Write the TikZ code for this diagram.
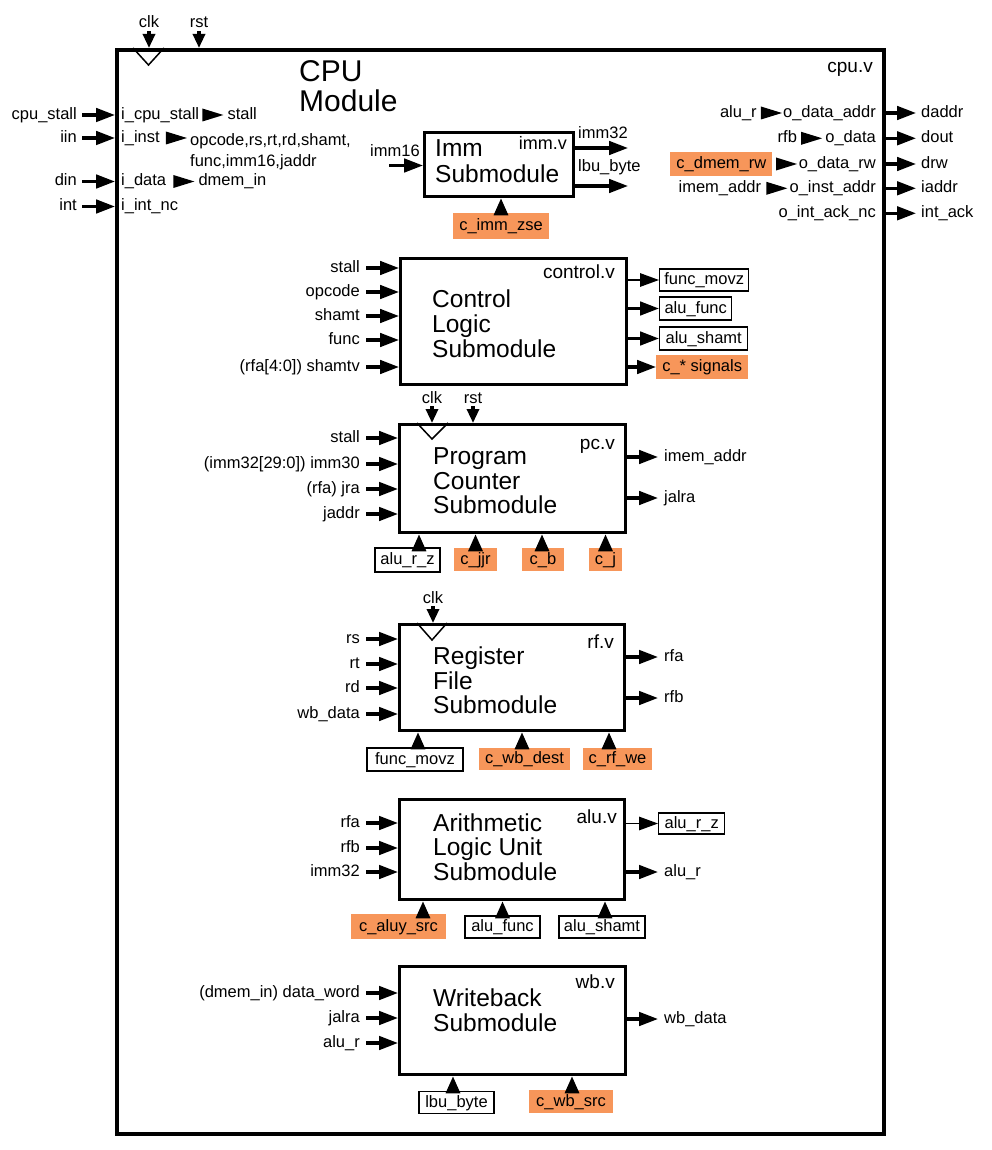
\documentclass[tikz,border=0pt]{standalone}
\usepackage{fontspec}
\setmainfont{Liberation Sans}
\usetikzlibrary{arrows.meta}
\definecolor{corange}{RGB}{247,150,90}
\newcommand\lblfnt{\fontsize{16.5}{20}\selectfont}
\newcommand\bigfnt{\fontsize{24.5}{25}\selectfont}
\newcommand\cpufnt{\fontsize{30}{30}\selectfont}
\newcommand\filefnt{\fontsize{19}{20}\selectfont}
% right-pointing small triangle starting at a coordinate
\newcommand\rtri[1]{\fill (#1) -- ++(0,-6.5) -- ++(21,6.5) -- ++(-21,6.5) -- cycle;}
% input label + arrow into a submodule
\newcommand\inp[4]{\node[lab, anchor=east] (#1) at (360,#2) {#3};
  \draw[arr] ([xshift=6pt]#1.east) -- (#1 -| #4.west);}
% output label + arrow out of a submodule
\newcommand\outp[4]{\node[lab, anchor=west] (#1) at (664,#2) {#3};
  \draw[arr] (#1 -| #4.east) -- ([xshift=-6pt]#1.west);}
% bottom tag + arrow up into a submodule
\newcommand\bin[9]{\node[#2, minimum width=#5pt, minimum height=#6pt] (#1) at (#3,#4) {#7};
  \coordinate (#1a) at ([xshift=#8pt]#1.north);
  \draw[barr] (#1a) -- (#1a |- #9.south);}
\begin{document}
\begin{tikzpicture}[x=1pt,y=-1pt,
  lab/.style={font=\lblfnt, inner sep=0pt, text height=12pt, text depth=3pt},
  tag/.style={lab, draw, line width=1.4pt},
  otag/.style={lab, fill=corange},
  sub/.style={draw, line width=3.3pt, anchor=north west, inner sep=0pt},
  title/.style={font=\bigfnt, anchor=base west, inner sep=0pt},
  file/.style={font=\filefnt, anchor=base east, inner sep=0pt},
  arr/.style={line width=3.2pt, -{Triangle[length=19pt,width=13.5pt]}},
  tarr/.style={line width=1.4pt, -{Triangle[length=19pt,width=13.5pt]}},
  barr/.style={line width=3.2pt, -{Triangle[length=17pt,width=14pt]}},
  varr/.style={line width=3.2pt, -{Triangle[length=14pt,width=12pt]}},
  clkmark/.style={line width=1.5pt}]
\useasboundingbox (0,0) rectangle (992,1150);

% ---------------- outer CPU module ----------------
\node[draw, line width=4.3pt, anchor=north west, inner sep=0pt,
      minimum width=767pt, minimum height=1084pt] (cpu) at (115,48) {};
\node[font=\cpufnt, anchor=base west, inner sep=0pt] (cput1) at (299,81.7) {CPU};
\node[font=\cpufnt, anchor=base west, inner sep=0pt] (cput2) at (299,111.7) {Module};
\node[file] (cpuv) at (873,73) {cpu.v};
\draw[clkmark] ([xshift=18pt]cpu.north west) -- ++(15.5,17) -- ++(15.5,-17);
\node[lab, anchor=base] (clk0) at (149,28) {clk};
\node[lab, anchor=base] (rst0) at (199,28) {rst};
\draw[varr] (clk0.south) -- (clk0.south |- cpu.north);
\draw[varr] (rst0.south) -- (rst0.south |- cpu.north);

% left inputs
\node[lab, anchor=east] (in1) at (77,115) {cpu\_stall};
\draw[arr] ([xshift=5pt]in1.east) -- (in1 -| cpu.west);
\node[lab, anchor=west] (ii1) at (121,115) {i\_cpu\_stall};
\rtri{[xshift=3pt]ii1.east}
\node[lab, anchor=west] (ii1b) at ([xshift=28pt]ii1.east) {stall};

\node[lab, anchor=east] (in2) at (77,138) {iin};
\draw[arr] ([xshift=5pt]in2.east) -- (in2 -| cpu.west);
\node[lab, anchor=west] (ii2) at (121,138) {i\_inst};
\rtri{[xshift=6pt]ii2.east}
\node[lab, anchor=west] (ii2b) at (190,141) {opcode,rs,rt,rd,shamt,};
\node[lab, anchor=west] (ii2c) at (190,162) {func,imm16,jaddr};

\node[lab, anchor=east] (in3) at (77,181.5) {din};
\draw[arr] ([xshift=5pt]in3.east) -- (in3 -| cpu.west);
\node[lab, anchor=west] (ii3) at (121,181.5) {i\_data};
\rtri{[xshift=7pt]ii3.east}
\node[lab, anchor=west] (ii3b) at ([xshift=32pt]ii3.east) {dmem\_in};

\node[lab, anchor=east] (in4) at (77,206.5) {int};
\draw[arr] ([xshift=5pt]in4.east) -- (in4 -| cpu.west);
\node[lab, anchor=west] (ii4) at (121,206.5) {i\_int\_nc};

% right outputs
\node[lab, anchor=east] (o1) at (876,113) {o\_data\_addr};
\rtri{[xshift=-22pt]o1.west}
\node[lab, anchor=east] (o1a) at ([xshift=-26pt]o1.west) {alu\_r};
\node[lab, anchor=west] (d1) at (921,113) {daddr};
\draw[arr] (o1 -| cpu.east) -- ([xshift=-5pt]d1.west);

\node[lab, anchor=east] (o2) at (876,138.3) {o\_data};
\rtri{[xshift=-24pt]o2.west}
\node[lab, anchor=east] (o2a) at ([xshift=-28pt]o2.west) {rfb};
\node[lab, anchor=west] (d2) at (921,138.3) {dout};
\draw[arr] (o2 -| cpu.east) -- ([xshift=-5pt]d2.west);

\node[lab, anchor=east] (o3) at (876,164) {o\_data\_rw};
\rtri{[xshift=-22.5pt]o3.west}
\node[otag, minimum width=102pt, minimum height=24pt, anchor=east] (cdm) at ([xshift=-26pt]o3.west) {c\_dmem\_rw};
\node[lab, anchor=west] (d3) at (921,164) {drw};
\draw[arr] (o3 -| cpu.east) -- ([xshift=-5pt]d3.west);

\node[lab, anchor=east] (o4) at (876,188.3) {o\_inst\_addr};
\rtri{[xshift=-23pt]o4.west}
\node[lab, anchor=east] (o4a) at ([xshift=-28pt]o4.west) {imem\_addr};
\node[lab, anchor=west] (d4) at (921,188.3) {iaddr};
\draw[arr] (o4 -| cpu.east) -- ([xshift=-5pt]d4.west);

\node[lab, anchor=east] (o5) at (876,213.3) {o\_int\_ack\_nc};
\node[lab, anchor=west] (d5) at (921,213.3) {int\_ack};
\draw[arr] (o5 -| cpu.east) -- ([xshift=-5pt]d5.west);

% ---------------- Imm submodule ----------------
\node[sub, minimum width=149pt, minimum height=64pt] (imm) at (423,131) {};
\node[title] (immt1) at (435,156.5) {Imm};
\node[title] (immt2) at (435,182.5) {Submodule};
\node[file, font=\fontsize{18}{20}\selectfont] (immv) at (567,150) {imm.v};
\node[lab, anchor=base west] (imm16) at (370,157) {imm16};
\coordinate (i16) at (389,165.5);
\draw[arr] (i16) -- (i16 -| imm.west);
\node[lab, anchor=base west] (imm32) at (578,139) {imm32};
\coordinate (i32) at (628,148);
\draw[arr] (i32 -| imm.east) -- (i32);
\node[lab, anchor=base west] (lbub) at (578,172) {lbu\_byte};
\coordinate (ilb) at (628,186);
\draw[arr] (ilb -| imm.east) -- (ilb);
\bin{cimm}{otag}{501}{226}{96}{26}{c\_imm\_zse}{0}{imm}

% ---------------- Control submodule ----------------
\node[sub, minimum width=226pt, minimum height=126pt] (ctl) at (399,257) {};
\node[title] (ctlt1) at (432,307) {Control};
\node[title] (ctlt2) at (432,332) {Logic};
\node[title] (ctlt3) at (432,357) {Submodule};
\node[file] (ctlv) at (615,278) {control.v};
\inp{ci1}{268}{stall}{ctl}
\inp{ci2}{292}{opcode}{ctl}
\inp{ci3}{316}{shamt}{ctl}
\inp{ci4}{340}{func}{ctl}
\inp{ci5}{367}{(rfa[4:0]) shamtv}{ctl}
\node[tag, minimum width=89pt, minimum height=22pt, anchor=west] (fm1) at (659,280) {func\_movz};
\draw[tarr] (fm1.west -| ctl.east) -- (fm1.west);
\node[tag, minimum width=72pt, minimum height=23pt, anchor=west] (af1) at (659,308.5) {alu\_func};
\draw[arr] (af1.west -| ctl.east) -- (af1.west);
\node[tag, minimum width=88pt, minimum height=23pt, anchor=west] (as1) at (659,338.5) {alu\_shamt};
\draw[arr] (as1.west -| ctl.east) -- (as1.west);
\node[otag, minimum width=92pt, minimum height=24pt, anchor=west] (cs1) at (656,367) {c\_* signals};
\draw[arr] (cs1.west -| ctl.east) -- (cs1.west);

% ---------------- PC submodule ----------------
\node[sub, minimum width=226pt, minimum height=108pt] (pc) at (398,423) {};
\draw[clkmark] ([xshift=19pt]pc.north west) -- ++(15,16) -- ++(16,-16);
\node[lab, anchor=base] (clk1) at (432,403) {clk};
\node[lab, anchor=base] (rst1) at (473,403) {rst};
\draw[varr] (clk1.south) -- (clk1.south |- pc.north);
\draw[varr] (rst1.south) -- (rst1.south |- pc.north);
\node[title] (pct1) at (433,464) {Program};
\node[title] (pct2) at (433,489) {Counter};
\node[title] (pct3) at (433,513) {Submodule};
\node[file] (pcv) at (615,449) {pc.v};
\inp{pi1}{438}{stall}{pc}
\inp{pi2}{464}{(imm32[29:0]) imm30}{pc}
\inp{pi3}{489}{(rfa) jra}{pc}
\inp{pi4}{514}{jaddr}{pc}
\outp{po1}{457}{imem\_addr}{pc}
\outp{po2}{498}{jalra}{pc}
\bin{pb1}{tag}{407.5}{560}{65}{24}{alu\_r\_z}{11.5}{pc}
\bin{pb2}{otag}{475.5}{559.5}{43}{23}{c\_jjr}{0}{pc}
\bin{pb3}{otag}{543}{559.5}{42}{23}{c\_b}{-1}{pc}
\bin{pb4}{otag}{605.5}{559.5}{33}{23}{c\_j}{0}{pc}

% ---------------- Register file ----------------
\node[sub, minimum width=225pt, minimum height=106pt] (rf) at (398,623) {};
\draw[clkmark] ([xshift=19pt]rf.north west) -- ++(15,17) -- ++(15,-17);
\node[lab, anchor=base] (clk2) at (433,603) {clk};
\draw[varr] (clk2.south) -- (clk2.south |- rf.north);
\node[title] (rft1) at (433,664) {Register};
\node[title] (rft2) at (433,689) {File};
\node[title] (rft3) at (433,713) {Submodule};
\node[file] (rfv) at (614,648) {rf.v};
\inp{ri1}{639}{rs}{rf}
\inp{ri2}{664}{rt}{rf}
\inp{ri3}{688}{rd}{rf}
\inp{ri4}{714}{wb\_data}{rf}
\outp{ro1}{657}{rfa}{rf}
\outp{ro2}{698}{rfb}{rf}
\bin{rb1}{tag}{415}{759.5}{96}{23}{func\_movz}{3}{rf}
\bin{rb2}{otag}{524.5}{759}{91}{22}{c\_wb\_dest}{-2.5}{rf}
\bin{rb3}{otag}{617.5}{759}{69}{22}{c\_rf\_we}{-8.5}{rf}

% ---------------- ALU ----------------
\node[sub, minimum width=225pt, minimum height=100pt] (alu) at (398,798) {};
\node[title] (alut1) at (433,831) {Arithmetic};
\node[title] (alut2) at (433,855) {Logic Unit};
\node[title] (alut3) at (433,880) {Submodule};
\node[file] (aluv) at (617,823) {alu.v};
\inp{ai1}{823}{rfa}{alu}
\inp{ai2}{848}{rfb}{alu}
\inp{ai3}{872}{imm32}{alu}
\node[tag, minimum width=66pt, minimum height=21pt, anchor=west] (arz) at (658,823.5) {alu\_r\_z};
\draw[tarr] (arz.west -| alu.east) -- (arz.west);
\outp{ao2}{872}{alu\_r}{alu}
\bin{ab1}{otag}{398.5}{926.5}{95}{25}{c\_aluy\_src}{24.5}{alu}
\bin{ab2}{tag}{502.5}{927}{75}{22}{alu\_func}{0}{alu}
\bin{ab3}{tag}{602}{927}{86}{22}{alu\_shamt}{3}{alu}

% ---------------- Writeback ----------------
\node[sub, minimum width=226pt, minimum height=108pt] (wb) at (398,965) {};
\node[title] (wbt1) at (433,1006) {Writeback};
\node[title] (wbt2) at (433,1031) {Submodule};
\node[file] (wbv) at (615,988) {wb.v};
\inp{wi1}{993}{(dmem\_in) data\_word}{wb}
\inp{wi2}{1018}{jalra}{wb}
\inp{wi3}{1043}{alu\_r}{wb}
\outp{wo1}{1019}{wb\_data}{wb}
\bin{wb1}{tag}{456.5}{1102.5}{75}{22}{lbu\_byte}{-3.5}{wb}
\bin{wb2}{otag}{571}{1101.5}{84}{23}{c\_wb\_src}{1}{wb}
\end{tikzpicture}
\end{document}
